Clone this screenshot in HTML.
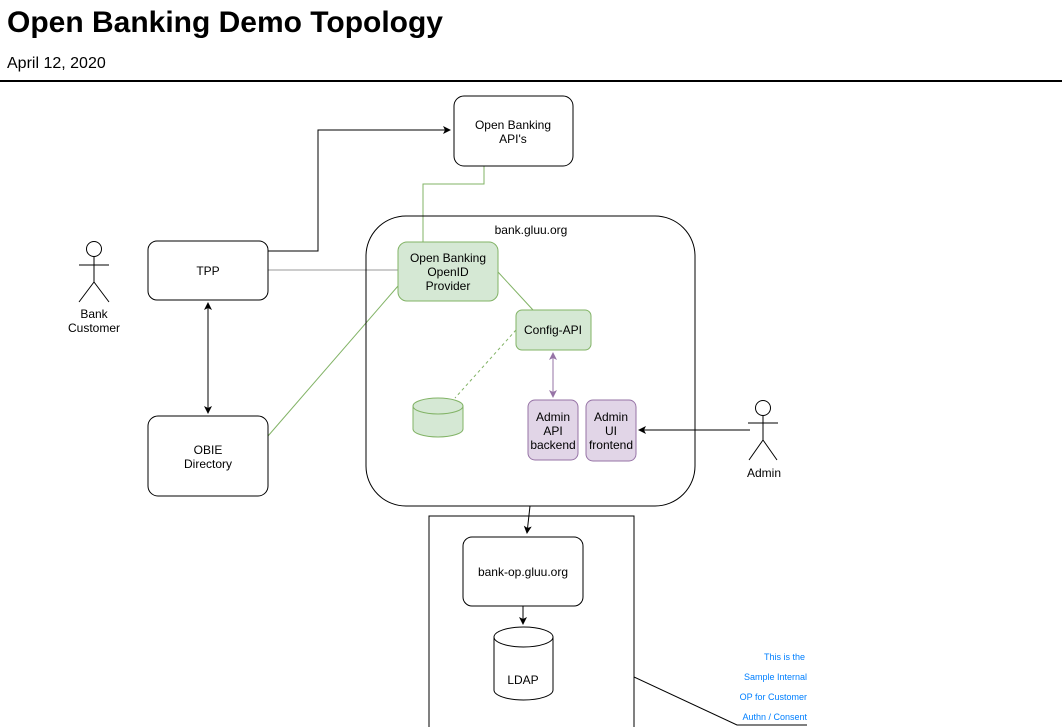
<!DOCTYPE html>
<html><head><meta charset="utf-8"><style>
html,body{margin:0;padding:0;background:#fff;width:1062px;height:727px;overflow:hidden}
svg{display:block;font-family:"Liberation Sans",Arial,sans-serif}
</style></head><body>
<svg width="1062" height="727" viewBox="0 0 1062 727" xmlns="http://www.w3.org/2000/svg">
<defs>
<marker id="ab" markerWidth="10" markerHeight="10" refX="8" refY="5" orient="auto" markerUnits="userSpaceOnUse"><path d="M1,1 L9,5 L1,9 L3,5 z" fill="#000"/></marker>
<marker id="ap" markerWidth="10" markerHeight="10" refX="8" refY="5" orient="auto" markerUnits="userSpaceOnUse"><path d="M1,1 L9,5 L1,9 L3,5 z" fill="#9673a6"/></marker>
<marker id="aps" markerWidth="10" markerHeight="10" refX="2" refY="5" orient="auto" markerUnits="userSpaceOnUse"><path d="M9,1 L1,5 L9,9 L7,5 z" fill="#9673a6"/></marker>
<marker id="abs" markerWidth="10" markerHeight="10" refX="2" refY="5" orient="auto" markerUnits="userSpaceOnUse"><path d="M9,1 L1,5 L9,9 L7,5 z" fill="#000"/></marker>
</defs>
<text x="7" y="32" font-size="30" font-weight="bold" textLength="436" lengthAdjust="spacingAndGlyphs">Open Banking Demo Topology</text>
<text x="7" y="68" font-size="16">April 12, 2020</text>
<rect x="0" y="80" width="1062" height="2" fill="#000"/>

<g fill="none" stroke-width="1">
<path d="M268,251 H318 V130 H450" stroke="#000" marker-end="url(#ab)"/>
<path d="M484,166 V184 H423 V242" stroke="#82b366"/>
<path d="M268,270 H398" stroke="#999"/>
<path d="M268,436 L398,286" stroke="#82b366"/>
<path d="M498,272 L533,310" stroke="#82b366"/>
<path d="M516,330 L455,398" stroke="#82b366" stroke-dasharray="3,3"/>
<path d="M553,353 V397" stroke="#9673a6" marker-end="url(#ap)" marker-start="url(#aps)"/>
<path d="M208,303 V413" stroke="#000" marker-end="url(#ab)" marker-start="url(#abs)"/>
<path d="M750,430 H639" stroke="#000" marker-end="url(#ab)"/>
<path d="M530,506 L527,533" stroke="#000" marker-end="url(#ab)"/>
<path d="M523,606 V624" stroke="#000" marker-end="url(#ab)"/>
<path d="M634,677 L737,725 H807" stroke="#000"/>
</g>

<g font-size="12" text-anchor="middle" fill="#000">
<rect x="454" y="96" width="119" height="70" rx="10" fill="#fff" stroke="#000"/>
<text x="513" y="129">Open Banking</text><text x="513" y="143">API's</text>

<rect x="366" y="216" width="329" height="290" rx="40" fill="none" stroke="#000"/>
<text x="531" y="234">bank.gluu.org</text>

<rect x="398" y="242" width="100" height="59" rx="9" fill="#d5e8d4" stroke="#82b366"/>
<text x="448" y="262">Open Banking</text><text x="448" y="276">OpenID</text><text x="448" y="290">Provider</text>

<rect x="516" y="310" width="75" height="40" rx="6" fill="#d5e8d4" stroke="#82b366"/>
<text x="553" y="334">Config-API</text>

<path d="M413,406 V429 A25,8 0 0 0 463,429 V406" fill="#d5e8d4" stroke="#82b366"/>
<ellipse cx="438" cy="406" rx="25" ry="8" fill="#d5e8d4" stroke="#82b366"/>

<rect x="528" y="400" width="50" height="60" rx="7" fill="#e1d5e7" stroke="#9673a6"/>
<text x="553" y="421">Admin</text><text x="553" y="435">API</text><text x="553" y="449">backend</text>
<rect x="586" y="400" width="50" height="61" rx="7" fill="#e1d5e7" stroke="#9673a6"/>
<text x="611" y="421">Admin</text><text x="611" y="435">UI</text><text x="611" y="449">frontend</text>

<rect x="148" y="241" width="120" height="59" rx="9" fill="#fff" stroke="#000"/>
<text x="208" y="275">TPP</text>
<rect x="148" y="416" width="120" height="80" rx="10" fill="#fff" stroke="#000"/>
<text x="208" y="454">OBIE</text><text x="208" y="468">Directory</text>

<g stroke="#000" fill="#fff">
<circle cx="94" cy="249" r="7.5"/>
<path d="M94,257 V282 M79,265 H109 M94,282 L79,302 M94,282 L109,302" fill="none"/>
<circle cx="763" cy="408" r="7.5"/>
<path d="M763,416 V440 M748,423 H778 M763,440 L749,460 M763,440 L777,460" fill="none"/>
</g>
<text x="94" y="318">Bank</text><text x="94" y="332">Customer</text>
<text x="764" y="477">Admin</text>

<rect x="429" y="516" width="205" height="215" fill="none" stroke="#000"/>
<rect x="463" y="537" width="120" height="69" rx="9" fill="#fff" stroke="#000"/>
<text x="523" y="576">bank-op.gluu.org</text>
<path d="M494,637 V690 A29.5,10 0 0 0 553,690 V637" fill="#fff" stroke="#000"/>
<ellipse cx="523.5" cy="637" rx="29.5" ry="10" fill="#fff" stroke="#000"/>
<text x="523" y="684">LDAP</text>
</g>
<g font-size="9" fill="#007fff" text-anchor="end">
<text x="805" y="660">This is the</text>
<text x="807" y="680">Sample Internal</text>
<text x="807" y="700">OP for Customer</text>
<text x="807" y="720">Authn / Consent</text>
</g>
</svg>
</body></html>
